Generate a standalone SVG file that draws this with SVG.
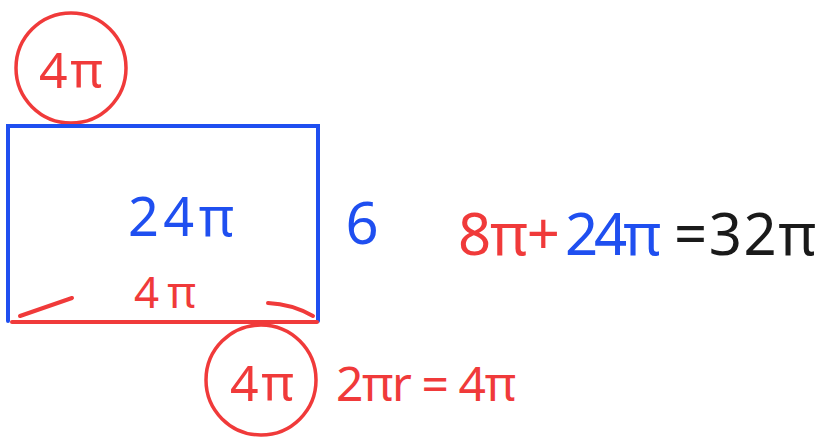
<svg xmlns="http://www.w3.org/2000/svg" width="822" height="438" viewBox="0 0 822 438">
<style>
.red{fill:#f03a3a}
.blue{fill:#1f4ff0}
.black{fill:#1a1a1a}
.t{font-family:"Noto Sans","Liberation Sans",sans-serif}
.ring{fill:none;stroke:#f03a3a;stroke-width:3.5}
.rs{fill:none;stroke:#f03a3a;stroke-width:4;stroke-linecap:round}
.bs{fill:none;stroke:#1f4ff0;stroke-width:4;stroke-linecap:round}
</style>
<rect width="822" height="438" fill="#ffffff"/>
<g id="top-circle">
<circle class="ring" cx="71" cy="68" r="55"/>
<text class="t red" x="71" y="88" font-size="50" text-anchor="middle" textLength="64">4π</text>
</g>
<g id="rectangle">
<path class="bs" d="M8,321 V126 H318 V321"/>
<text class="t blue" x="181" y="236" font-size="54" text-anchor="middle" textLength="106">24π</text>
</g>
<g id="bottom-edge">
<line class="rs" x1="12" y1="322" x2="317" y2="322"/>
<path class="rs" d="M20,316 L72,298"/>
<path class="rs" d="M268,303 Q292,304 313,316"/>
<text class="t red" x="165" y="308" font-size="44" text-anchor="middle" textLength="62">4π</text>
</g>
<g id="height-label">
<text class="t blue" x="362" y="244" font-size="58" text-anchor="middle" textLength="26">6</text>
</g>
<g id="equation">
<text class="t red" x="458" y="255" font-size="58" textLength="102">8π+</text>
<text class="t blue" x="565" y="255" font-size="58" textLength="96">24π</text>
<text class="t black" x="674" y="255" font-size="58" textLength="142">=32π</text>
</g>
<g id="bottom-circle">
<circle class="ring" cx="261" cy="380" r="55"/>
<text class="t red" x="262" y="401" font-size="50" text-anchor="middle" textLength="64">4π</text>
<text class="t red" x="336" y="401" font-size="48" textLength="180">2πr = 4π</text>
</g>
</svg>
